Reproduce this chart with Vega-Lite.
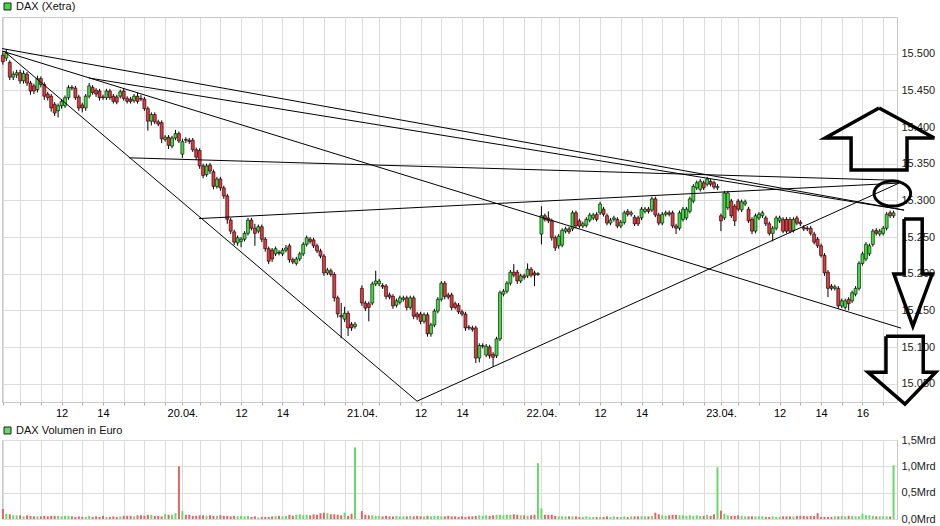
{
"$schema":"https://vega.github.io/schema/vega-lite/v6.json",
"padding":{"left":0,"top":0,"right":0,"bottom":0},
"spacing":5,
"config":{"view":{"stroke":"#c8c8c8"},"font":"Liberation Sans",
"axis":{"gridColor":"#dcdcdc","gridWidth":1,"labelFont":"Liberation Sans","labelFontSize":11,"labelColor":"#111","domain":false,"ticks":false,"title":null,"labelOverlap":false},
"legend":{"symbolType":"square","symbolSize":49,"symbolStrokeColor":"#222","symbolStrokeWidth":1,"labelFont":"Liberation Sans","labelFontSize":11,"labelColor":"#111","padding":0,"title":null,"labelOffset":3}},
"datasets":{
"candles":[
{"t":0,"o":15498,"h":15502,"l":15485,"c":15489,"v":0.19},
{"t":1,"o":15494,"h":15506,"l":15490,"c":15501,"v":0.10},
{"t":2,"o":15488,"h":15491,"l":15464,"c":15468,"v":0.09},
{"t":3,"o":15468,"h":15476,"l":15464,"c":15472,"v":0.07},
{"t":4,"o":15471,"h":15478,"l":15467,"c":15474,"v":0.07},
{"t":5,"o":15474,"h":15478,"l":15459,"c":15463,"v":0.07},
{"t":6,"o":15463,"h":15477,"l":15459,"c":15473,"v":0.05},
{"t":7,"o":15472,"h":15475,"l":15456,"c":15460,"v":0.07},
{"t":8,"o":15460,"h":15463,"l":15444,"c":15449,"v":0.06},
{"t":9,"o":15456,"h":15459,"l":15445,"c":15449,"v":0.05},
{"t":10,"o":15451,"h":15470,"l":15447,"c":15466,"v":0.05},
{"t":11,"o":15466,"h":15469,"l":15454,"c":15458,"v":0.05},
{"t":12,"o":15458,"h":15461,"l":15437,"c":15442,"v":0.06},
{"t":13,"o":15445,"h":15448,"l":15436,"c":15440,"v":0.05},
{"t":14,"o":15442,"h":15445,"l":15421,"c":15426,"v":0.06},
{"t":15,"o":15431,"h":15434,"l":15415,"c":15419,"v":0.06},
{"t":16,"o":15422,"h":15432,"l":15413,"c":15429,"v":0.06},
{"t":17,"o":15429,"h":15438,"l":15425,"c":15435,"v":0.05},
{"t":18,"o":15429,"h":15443,"l":15426,"c":15440,"v":0.06},
{"t":19,"o":15440,"h":15457,"l":15437,"c":15454,"v":0.06},
{"t":20,"o":15454,"h":15457,"l":15450,"c":15453,"v":0.05},
{"t":21,"o":15453,"h":15456,"l":15437,"c":15440,"v":0.04},
{"t":22,"o":15441,"h":15444,"l":15422,"c":15426,"v":0.05},
{"t":23,"o":15430,"h":15433,"l":15420,"c":15426,"v":0.04},
{"t":24,"o":15426,"h":15445,"l":15422,"c":15442,"v":0.04},
{"t":25,"o":15442,"h":15460,"l":15439,"c":15456,"v":0.06},
{"t":26,"o":15454,"h":15457,"l":15444,"c":15447,"v":0.04},
{"t":27,"o":15450,"h":15453,"l":15441,"c":15445,"v":0.05},
{"t":28,"o":15449,"h":15452,"l":15436,"c":15440,"v":0.04},
{"t":29,"o":15441,"h":15444,"l":15437,"c":15440,"v":0.06},
{"t":30,"o":15440,"h":15452,"l":15437,"c":15449,"v":0.04},
{"t":31,"o":15449,"h":15452,"l":15437,"c":15440,"v":0.04},
{"t":32,"o":15442,"h":15445,"l":15432,"c":15435,"v":0.05},
{"t":33,"o":15441,"h":15444,"l":15431,"c":15434,"v":0.04},
{"t":34,"o":15442,"h":15451,"l":15439,"c":15448,"v":0.05},
{"t":35,"o":15449,"h":15452,"l":15436,"c":15439,"v":0.06},
{"t":36,"o":15439,"h":15442,"l":15432,"c":15435,"v":0.06},
{"t":37,"o":15438,"h":15441,"l":15432,"c":15435,"v":0.06},
{"t":38,"o":15436,"h":15445,"l":15433,"c":15442,"v":0.05},
{"t":39,"o":15442,"h":15447,"l":15432,"c":15435,"v":0.07},
{"t":40,"o":15439,"h":15444,"l":15435,"c":15438,"v":0.07},
{"t":41,"o":15438,"h":15441,"l":15422,"c":15425,"v":0.06},
{"t":42,"o":15425,"h":15428,"l":15395,"c":15408,"v":0.08},
{"t":43,"o":15408,"h":15420,"l":15402,"c":15417,"v":0.08},
{"t":44,"o":15417,"h":15420,"l":15404,"c":15407,"v":0.06},
{"t":45,"o":15407,"h":15410,"l":15401,"c":15404,"v":0.06},
{"t":46,"o":15406,"h":15409,"l":15378,"c":15384,"v":0.05},
{"t":47,"o":15383,"h":15389,"l":15380,"c":15386,"v":0.09},
{"t":48,"o":15386,"h":15389,"l":15370,"c":15375,"v":0.08},
{"t":49,"o":15374,"h":15388,"l":15371,"c":15385,"v":0.08},
{"t":50,"o":15385,"h":15396,"l":15382,"c":15391,"v":0.11},
{"t":51,"o":15391,"h":15394,"l":15378,"c":15381,"v":1.0},
{"t":52,"o":15363,"h":15384,"l":15358,"c":15380,"v":0.15},
{"t":53,"o":15383,"h":15386,"l":15378,"c":15382,"v":0.08},
{"t":54,"o":15382,"h":15385,"l":15377,"c":15380,"v":0.08},
{"t":55,"o":15382,"h":15385,"l":15366,"c":15369,"v":0.06},
{"t":56,"o":15369,"h":15372,"l":15355,"c":15359,"v":0.06},
{"t":57,"o":15368,"h":15371,"l":15343,"c":15347,"v":0.07},
{"t":58,"o":15347,"h":15350,"l":15330,"c":15334,"v":0.07},
{"t":59,"o":15335,"h":15350,"l":15332,"c":15347,"v":0.06},
{"t":60,"o":15348,"h":15351,"l":15336,"c":15340,"v":0.07},
{"t":61,"o":15339,"h":15342,"l":15315,"c":15319,"v":0.06},
{"t":62,"o":15319,"h":15332,"l":15316,"c":15329,"v":0.06},
{"t":63,"o":15329,"h":15332,"l":15313,"c":15317,"v":0.07},
{"t":64,"o":15317,"h":15320,"l":15302,"c":15306,"v":0.06},
{"t":65,"o":15306,"h":15309,"l":15268,"c":15274,"v":0.06},
{"t":66,"o":15273,"h":15276,"l":15254,"c":15258,"v":0.05},
{"t":67,"o":15257,"h":15260,"l":15239,"c":15243,"v":0.06},
{"t":68,"o":15242,"h":15252,"l":15238,"c":15249,"v":0.05},
{"t":69,"o":15244,"h":15250,"l":15236,"c":15247,"v":0.06},
{"t":70,"o":15247,"h":15258,"l":15244,"c":15255,"v":0.05},
{"t":71,"o":15255,"h":15276,"l":15252,"c":15273,"v":0.06},
{"t":72,"o":15273,"h":15276,"l":15259,"c":15262,"v":0.04},
{"t":73,"o":15262,"h":15268,"l":15238,"c":15255,"v":0.05},
{"t":74,"o":15258,"h":15267,"l":15255,"c":15264,"v":0.03},
{"t":75,"o":15264,"h":15267,"l":15243,"c":15247,"v":0.04},
{"t":76,"o":15247,"h":15250,"l":15230,"c":15234,"v":0.04},
{"t":77,"o":15234,"h":15237,"l":15213,"c":15217,"v":0.04},
{"t":78,"o":15232,"h":15235,"l":15216,"c":15220,"v":0.05},
{"t":79,"o":15227,"h":15237,"l":15224,"c":15234,"v":0.06},
{"t":80,"o":15229,"h":15232,"l":15225,"c":15228,"v":0.06},
{"t":81,"o":15227,"h":15235,"l":15224,"c":15232,"v":0.05},
{"t":82,"o":15232,"h":15239,"l":15229,"c":15235,"v":0.06},
{"t":83,"o":15238,"h":15241,"l":15215,"c":15219,"v":0.08},
{"t":84,"o":15219,"h":15222,"l":15213,"c":15216,"v":0.06},
{"t":85,"o":15214,"h":15223,"l":15211,"c":15220,"v":0.08},
{"t":86,"o":15220,"h":15230,"l":15217,"c":15227,"v":0.09},
{"t":87,"o":15227,"h":15243,"l":15224,"c":15240,"v":0.07},
{"t":88,"o":15240,"h":15252,"l":15237,"c":15249,"v":0.08},
{"t":89,"o":15247,"h":15250,"l":15241,"c":15244,"v":0.07},
{"t":90,"o":15246,"h":15249,"l":15235,"c":15238,"v":0.09},
{"t":91,"o":15238,"h":15241,"l":15228,"c":15231,"v":0.08},
{"t":92,"o":15231,"h":15234,"l":15221,"c":15224,"v":0.11},
{"t":93,"o":15224,"h":15227,"l":15197,"c":15201,"v":0.12},
{"t":94,"o":15201,"h":15208,"l":15198,"c":15205,"v":0.11},
{"t":95,"o":15204,"h":15207,"l":15196,"c":15199,"v":0.09},
{"t":96,"o":15199,"h":15202,"l":15162,"c":15167,"v":0.09},
{"t":97,"o":15167,"h":15170,"l":15140,"c":15145,"v":0.08},
{"t":98,"o":15143,"h":15160,"l":15112,"c":15141,"v":0.07},
{"t":99,"o":15138,"h":15155,"l":15134,"c":15146,"v":0.12},
{"t":100,"o":15146,"h":15149,"l":15115,"c":15126,"v":0.06},
{"t":101,"o":15131,"h":15134,"l":15122,"c":15126,"v":0.10},
{"t":102,"o":15128,"h":15134,"l":15125,"c":15131,"v":1.36},
{"t":104,"o":15180,"h":15184,"l":15156,"c":15160,"v":0.15},
{"t":105,"o":15160,"h":15163,"l":15149,"c":15153,"v":0.08},
{"t":106,"o":15159,"h":15162,"l":15135,"c":15154,"v":0.07},
{"t":107,"o":15160,"h":15189,"l":15157,"c":15186,"v":0.07},
{"t":108,"o":15186,"h":15204,"l":15183,"c":15190,"v":0.06},
{"t":109,"o":15186,"h":15193,"l":15183,"c":15190,"v":0.06},
{"t":110,"o":15184,"h":15187,"l":15179,"c":15182,"v":0.05},
{"t":111,"o":15183,"h":15186,"l":15165,"c":15169,"v":0.06},
{"t":112,"o":15171,"h":15174,"l":15165,"c":15168,"v":0.05},
{"t":113,"o":15169,"h":15172,"l":15152,"c":15156,"v":0.05},
{"t":114,"o":15157,"h":15166,"l":15154,"c":15163,"v":0.06},
{"t":115,"o":15161,"h":15170,"l":15158,"c":15167,"v":0.05},
{"t":116,"o":15165,"h":15170,"l":15162,"c":15167,"v":0.05},
{"t":117,"o":15167,"h":15170,"l":15150,"c":15154,"v":0.05},
{"t":118,"o":15154,"h":15170,"l":15151,"c":15167,"v":0.06},
{"t":119,"o":15167,"h":15170,"l":15138,"c":15142,"v":0.05},
{"t":120,"o":15145,"h":15148,"l":15137,"c":15141,"v":0.06},
{"t":121,"o":15145,"h":15148,"l":15131,"c":15135,"v":0.05},
{"t":122,"o":15135,"h":15147,"l":15132,"c":15144,"v":0.05},
{"t":123,"o":15144,"h":15147,"l":15114,"c":15118,"v":0.06},
{"t":124,"o":15118,"h":15133,"l":15114,"c":15130,"v":0.05},
{"t":125,"o":15130,"h":15152,"l":15127,"c":15149,"v":0.06},
{"t":126,"o":15149,"h":15168,"l":15146,"c":15165,"v":0.06},
{"t":127,"o":15165,"h":15190,"l":15162,"c":15187,"v":0.05},
{"t":128,"o":15187,"h":15190,"l":15165,"c":15169,"v":0.05},
{"t":129,"o":15171,"h":15174,"l":15165,"c":15168,"v":0.06},
{"t":130,"o":15171,"h":15174,"l":15150,"c":15154,"v":0.05},
{"t":131,"o":15159,"h":15162,"l":15151,"c":15154,"v":0.05},
{"t":132,"o":15157,"h":15160,"l":15145,"c":15148,"v":0.04},
{"t":133,"o":15148,"h":15151,"l":15142,"c":15145,"v":0.05},
{"t":134,"o":15145,"h":15148,"l":15122,"c":15126,"v":0.04},
{"t":135,"o":15127,"h":15130,"l":15123,"c":15126,"v":0.05},
{"t":136,"o":15126,"h":15129,"l":15121,"c":15124,"v":0.05},
{"t":137,"o":15126,"h":15129,"l":15078,"c":15085,"v":0.06},
{"t":138,"o":15085,"h":15105,"l":15079,"c":15102,"v":0.07},
{"t":139,"o":15101,"h":15105,"l":15098,"c":15102,"v":0.06},
{"t":140,"o":15089,"h":15104,"l":15086,"c":15101,"v":0.07},
{"t":141,"o":15100,"h":15103,"l":15084,"c":15088,"v":0.06},
{"t":142,"o":15090,"h":15093,"l":15073,"c":15086,"v":0.07},
{"t":143,"o":15088,"h":15114,"l":15085,"c":15111,"v":0.08},
{"t":144,"o":15111,"h":15177,"l":15108,"c":15174,"v":0.08},
{"t":145,"o":15172,"h":15179,"l":15169,"c":15176,"v":0.07},
{"t":146,"o":15176,"h":15190,"l":15173,"c":15187,"v":0.08},
{"t":147,"o":15187,"h":15205,"l":15184,"c":15202,"v":0.08},
{"t":148,"o":15202,"h":15213,"l":15195,"c":15198,"v":0.09},
{"t":149,"o":15202,"h":15205,"l":15186,"c":15190,"v":0.08},
{"t":150,"o":15190,"h":15200,"l":15187,"c":15197,"v":0.07},
{"t":151,"o":15197,"h":15200,"l":15192,"c":15195,"v":0.07},
{"t":152,"o":15197,"h":15214,"l":15194,"c":15206,"v":0.06},
{"t":153,"o":15206,"h":15209,"l":15195,"c":15198,"v":0.07},
{"t":154,"o":15201,"h":15204,"l":15183,"c":15198,"v":0.08},
{"t":155,"o":15199,"h":15202,"l":15197,"c":15200,"v":1.06},
{"t":156,"o":15254,"h":15292,"l":15240,"c":15279,"v":0.20},
{"t":157,"o":15279,"h":15282,"l":15271,"c":15274,"v":0.08},
{"t":158,"o":15276,"h":15285,"l":15269,"c":15272,"v":0.08},
{"t":159,"o":15272,"h":15275,"l":15245,"c":15249,"v":0.08},
{"t":160,"o":15249,"h":15252,"l":15231,"c":15235,"v":0.06},
{"t":161,"o":15238,"h":15254,"l":15234,"c":15251,"v":0.05},
{"t":162,"o":15239,"h":15262,"l":15236,"c":15259,"v":0.05},
{"t":163,"o":15258,"h":15264,"l":15255,"c":15261,"v":0.05},
{"t":164,"o":15261,"h":15264,"l":15254,"c":15257,"v":0.05},
{"t":165,"o":15261,"h":15286,"l":15258,"c":15283,"v":0.05},
{"t":166,"o":15283,"h":15286,"l":15262,"c":15265,"v":0.05},
{"t":167,"o":15272,"h":15275,"l":15262,"c":15265,"v":0.04},
{"t":168,"o":15265,"h":15271,"l":15262,"c":15268,"v":0.04},
{"t":169,"o":15266,"h":15277,"l":15263,"c":15274,"v":0.05},
{"t":170,"o":15273,"h":15283,"l":15270,"c":15280,"v":0.04},
{"t":171,"o":15276,"h":15283,"l":15273,"c":15280,"v":0.04},
{"t":172,"o":15281,"h":15284,"l":15271,"c":15274,"v":0.04},
{"t":173,"o":15283,"h":15298,"l":15280,"c":15295,"v":0.04},
{"t":174,"o":15288,"h":15291,"l":15278,"c":15281,"v":0.04},
{"t":175,"o":15279,"h":15282,"l":15266,"c":15269,"v":0.05},
{"t":176,"o":15269,"h":15276,"l":15266,"c":15273,"v":0.04},
{"t":177,"o":15274,"h":15279,"l":15271,"c":15276,"v":0.05},
{"t":178,"o":15274,"h":15277,"l":15262,"c":15265,"v":0.04},
{"t":179,"o":15265,"h":15273,"l":15262,"c":15270,"v":0.04},
{"t":180,"o":15270,"h":15286,"l":15267,"c":15283,"v":0.05},
{"t":181,"o":15285,"h":15288,"l":15278,"c":15281,"v":0.04},
{"t":182,"o":15281,"h":15286,"l":15278,"c":15283,"v":0.05},
{"t":183,"o":15277,"h":15280,"l":15265,"c":15268,"v":0.05},
{"t":184,"o":15276,"h":15279,"l":15265,"c":15268,"v":0.05},
{"t":185,"o":15276,"h":15291,"l":15273,"c":15288,"v":0.05},
{"t":186,"o":15285,"h":15291,"l":15282,"c":15288,"v":0.05},
{"t":187,"o":15288,"h":15291,"l":15282,"c":15285,"v":0.05},
{"t":188,"o":15287,"h":15305,"l":15284,"c":15302,"v":0.06},
{"t":189,"o":15302,"h":15305,"l":15277,"c":15280,"v":0.12},
{"t":190,"o":15280,"h":15283,"l":15266,"c":15269,"v":0.09},
{"t":191,"o":15269,"h":15284,"l":15266,"c":15281,"v":0.07},
{"t":192,"o":15281,"h":15286,"l":15278,"c":15283,"v":0.06},
{"t":193,"o":15283,"h":15286,"l":15278,"c":15281,"v":0.07},
{"t":194,"o":15283,"h":15286,"l":15262,"c":15265,"v":0.08},
{"t":195,"o":15265,"h":15268,"l":15254,"c":15262,"v":0.08},
{"t":196,"o":15262,"h":15286,"l":15259,"c":15283,"v":0.07},
{"t":197,"o":15274,"h":15291,"l":15271,"c":15288,"v":0.07},
{"t":198,"o":15276,"h":15291,"l":15273,"c":15288,"v":0.06},
{"t":199,"o":15285,"h":15305,"l":15282,"c":15302,"v":0.07},
{"t":200,"o":15299,"h":15322,"l":15296,"c":15319,"v":0.06},
{"t":201,"o":15317,"h":15327,"l":15314,"c":15324,"v":0.07},
{"t":202,"o":15315,"h":15329,"l":15312,"c":15326,"v":0.06},
{"t":203,"o":15324,"h":15327,"l":15314,"c":15317,"v":0.06},
{"t":204,"o":15322,"h":15332,"l":15319,"c":15329,"v":0.08},
{"t":205,"o":15326,"h":15329,"l":15319,"c":15322,"v":0.06},
{"t":206,"o":15324,"h":15327,"l":15315,"c":15318,"v":0.09},
{"t":207,"o":15317,"h":15322,"l":15314,"c":15319,"v":0.98},
{"t":208,"o":15279,"h":15282,"l":15258,"c":15272,"v":0.16},
{"t":209,"o":15276,"h":15313,"l":15273,"c":15310,"v":0.10},
{"t":210,"o":15290,"h":15313,"l":15287,"c":15310,"v":0.07},
{"t":211,"o":15299,"h":15302,"l":15276,"c":15279,"v":0.06},
{"t":212,"o":15292,"h":15295,"l":15265,"c":15272,"v":0.06},
{"t":213,"o":15299,"h":15302,"l":15285,"c":15288,"v":0.07},
{"t":214,"o":15287,"h":15301,"l":15284,"c":15298,"v":0.06},
{"t":215,"o":15295,"h":15301,"l":15292,"c":15298,"v":0.05},
{"t":216,"o":15288,"h":15291,"l":15269,"c":15272,"v":0.05},
{"t":217,"o":15274,"h":15277,"l":15254,"c":15258,"v":0.05},
{"t":218,"o":15258,"h":15282,"l":15255,"c":15279,"v":0.05},
{"t":219,"o":15276,"h":15284,"l":15273,"c":15281,"v":0.05},
{"t":220,"o":15279,"h":15286,"l":15276,"c":15283,"v":0.05},
{"t":221,"o":15276,"h":15279,"l":15265,"c":15268,"v":0.04},
{"t":222,"o":15268,"h":15271,"l":15252,"c":15255,"v":0.04},
{"t":223,"o":15255,"h":15265,"l":15244,"c":15262,"v":0.05},
{"t":224,"o":15262,"h":15279,"l":15259,"c":15276,"v":0.04},
{"t":225,"o":15272,"h":15279,"l":15269,"c":15276,"v":0.04},
{"t":226,"o":15274,"h":15277,"l":15255,"c":15258,"v":0.05},
{"t":227,"o":15274,"h":15277,"l":15255,"c":15258,"v":0.05},
{"t":228,"o":15274,"h":15277,"l":15255,"c":15258,"v":0.05},
{"t":229,"o":15259,"h":15277,"l":15256,"c":15274,"v":0.05},
{"t":230,"o":15276,"h":15279,"l":15266,"c":15269,"v":0.06},
{"t":231,"o":15270,"h":15273,"l":15265,"c":15268,"v":0.06},
{"t":232,"o":15263,"h":15266,"l":15258,"c":15261,"v":0.06},
{"t":233,"o":15262,"h":15265,"l":15258,"c":15261,"v":0.05},
{"t":234,"o":15262,"h":15265,"l":15252,"c":15255,"v":0.06},
{"t":235,"o":15254,"h":15257,"l":15240,"c":15243,"v":0.06},
{"t":236,"o":15247,"h":15250,"l":15235,"c":15238,"v":0.11},
{"t":237,"o":15238,"h":15241,"l":15222,"c":15225,"v":0.04},
{"t":238,"o":15225,"h":15228,"l":15197,"c":15201,"v":0.04},
{"t":239,"o":15202,"h":15205,"l":15168,"c":15180,"v":0.04},
{"t":240,"o":15183,"h":15186,"l":15177,"c":15180,"v":0.04},
{"t":241,"o":15180,"h":15185,"l":15177,"c":15182,"v":0.05},
{"t":242,"o":15180,"h":15183,"l":15152,"c":15156,"v":0.05},
{"t":243,"o":15156,"h":15166,"l":15153,"c":15163,"v":0.06},
{"t":244,"o":15154,"h":15166,"l":15151,"c":15163,"v":0.05},
{"t":245,"o":15165,"h":15168,"l":15150,"c":15159,"v":0.06},
{"t":246,"o":15163,"h":15177,"l":15160,"c":15174,"v":0.06},
{"t":247,"o":15172,"h":15183,"l":15169,"c":15180,"v":0.05},
{"t":248,"o":15180,"h":15217,"l":15177,"c":15214,"v":0.05},
{"t":249,"o":15214,"h":15230,"l":15211,"c":15227,"v":0.10},
{"t":250,"o":15220,"h":15243,"l":15217,"c":15240,"v":0.07},
{"t":251,"o":15227,"h":15241,"l":15224,"c":15238,"v":0.07},
{"t":252,"o":15240,"h":15261,"l":15237,"c":15258,"v":0.06},
{"t":253,"o":15259,"h":15262,"l":15252,"c":15255,"v":0.05},
{"t":254,"o":15254,"h":15261,"l":15251,"c":15258,"v":0.05},
{"t":255,"o":15255,"h":15265,"l":15252,"c":15262,"v":0.05},
{"t":256,"o":15262,"h":15284,"l":15259,"c":15281,"v":0.05},
{"t":257,"o":15283,"h":15286,"l":15276,"c":15279,"v":0.05},
{"t":258,"o":15279,"h":15286,"l":15276,"c":15283,"v":1.02}
],
"lines":[
{"t":-0.25,"p":15507,"t2":261.05,"p2":15286.7},
{"t":24.95,"p":15466.8,"t2":261.05,"p2":15286.7},
{"t":36.54,"p":15358,"t2":259.6,"p2":15327.2},
{"t":56.8,"p":15275.1,"t2":259.6,"p2":15323.5},
{"t":-0.25,"p":15503.6,"t2":260.2,"p2":15125.7},
{"t":119.97,"p":15026.1,"t2":259.6,"p2":15323.5},
{"t":0.33,"p":15503.6,"t2":119.97,"p2":15026.1}
],
"arrows":[
{"a":"up","i":0,"t":253.8,"p":15425.9},{"a":"up","i":1,"t":269.8,"p":15384.9},{"a":"up","i":2,"t":261.9,"p":15384.9},{"a":"up","i":3,"t":261.9,"p":15341.2},{"a":"up","i":4,"t":245.7,"p":15341.2},{"a":"up","i":5,"t":245.7,"p":15384.9},{"a":"up","i":6,"t":238.2,"p":15384.9},{"a":"up","i":7,"t":253.8,"p":15425.9},
{"a":"down1","i":0,"t":261.05,"p":15274.4},{"a":"down1","i":1,"t":266.3,"p":15274.4},{"a":"down1","i":2,"t":266.3,"p":15199.4},{"a":"down1","i":3,"t":269.2,"p":15199.4},{"a":"down1","i":4,"t":263.6,"p":15128.5},{"a":"down1","i":5,"t":258.1,"p":15199.4},{"a":"down1","i":6,"t":261.05,"p":15199.4},{"a":"down1","i":7,"t":261.05,"p":15274.4},
{"a":"down2","i":0,"t":255.8,"p":15114.8},{"a":"down2","i":1,"t":266.6,"p":15114.8},{"a":"down2","i":2,"t":266.6,"p":15065.7},{"a":"down2","i":3,"t":270.2,"p":15065.7},{"a":"down2","i":4,"t":261.3,"p":15022.1},{"a":"down2","i":5,"t":250.6,"p":15065.7},{"a":"down2","i":6,"t":255.8,"p":15065.7},{"a":"down2","i":7,"t":255.8,"p":15114.8}
],
"ring":[{"t":257.65,"p":15309.2}]
},
"vconcat":[
{"width":895,"height":385,
"encoding":{
"x":{"field":"t","type":"quantitative","scale":{"domain":[-0.25,259],"nice":false,"zero":false,"padding":0},
"axis":{"values":[0,5,11,17,23,29,35,41,47,52,57,63,69,75,81,87,93,99,104,109,115,121,127,133,139,145,151,156,161,167,173,179,185,191,197,203,208,213,219,225,231,237,243,249,255],
"labelExpr":"datum.value == 52 ? '20.04.' : datum.value == 104 ? '21.04.' : datum.value == 156 ? '22.04.' : datum.value == 208 ? '23.04.' : datum.value % 52 == 17 ? '12' : datum.value % 52 == 29 ? '14' : datum.value == 249 ? '16' : ''",
"labelOverlap":false,"labelFlush":false,"labelBound":false,"ticks":true,"tickSize":3,"tickColor":"#aaaaaa","labelPadding":2,"labelColor":"#000","grid":true,"title":null}}},
"layer":[
{"data":{"name":"candles"},"mark":{"type":"rule","color":"#000","strokeWidth":1},
"encoding":{
"y":{"field":"l","type":"quantitative","scale":{"domain":[15025,15550],"nice":false,"zero":false},
"axis":{"orient":"right","values":[15050,15100,15150,15200,15250,15300,15350,15400,15450,15500],"labelExpr":"replace(format(datum.value, ',d'), ',', '.')","labelPadding":4,"grid":true,"title":null,"labelColor":"#222","labelOverlap":false}},
"y2":{"field":"h"}}},
{"data":{"name":"candles"},"mark":{"type":"bar","width":3,"stroke":"#000","strokeWidth":0.6},
"encoding":{
"y":{"field":"o","type":"quantitative","scale":{"domain":[15025,15550],"nice":false,"zero":false},
"axis":{"orient":"right","values":[15050,15100,15150,15200,15250,15300,15350,15400,15450,15500],"labelExpr":"replace(format(datum.value, ',d'), ',', '.')","labelPadding":4,"grid":true,"title":null,"labelColor":"#222","labelOverlap":false}},
"y2":{"field":"c"},
"color":{"condition":{"test":"datum.c < datum.o","value":"#e0393e"},"datum":"DAX (Xetra)","type":"nominal","scale":{"range":["#3ddc3d"]},"legend":{"orient":"none","legendX":0,"legendY":-16}}}},
{"data":{"name":"lines"},"mark":{"type":"rule","color":"#000","strokeWidth":1},
"encoding":{
"y":{"field":"p","type":"quantitative","scale":{"domain":[15025,15550],"nice":false,"zero":false},
"axis":{"orient":"right","values":[15050,15100,15150,15200,15250,15300,15350,15400,15450,15500],"labelExpr":"replace(format(datum.value, ',d'), ',', '.')","labelPadding":4,"grid":true,"title":null,"labelColor":"#222","labelOverlap":false}},
"x2":{"field":"t2"},"y2":{"field":"p2"}}},
{"data":{"name":"arrows"},"mark":{"type":"line","color":"#000","strokeWidth":3.5,"strokeJoin":"miter","clip":false},
"encoding":{
"y":{"field":"p","type":"quantitative","scale":{"domain":[15025,15550],"nice":false,"zero":false},
"axis":{"orient":"right","values":[15050,15100,15150,15200,15250,15300,15350,15400,15450,15500],"labelExpr":"replace(format(datum.value, ',d'), ',', '.')","labelPadding":4,"grid":true,"title":null,"labelColor":"#222","labelOverlap":false}},
"detail":{"field":"a"},"order":{"field":"i"}}},
{"data":{"name":"ring"},"mark":{"type":"point","shape":"M -1 0 A 1 0.683 0 1 0 1 0 A 1 0.683 0 1 0 -1 0 Z","size":1340,"filled":false,"stroke":"#000","strokeWidth":3,"opacity":1},
"encoding":{
"y":{"field":"p","type":"quantitative","scale":{"domain":[15025,15550],"nice":false,"zero":false},
"axis":{"orient":"right","values":[15050,15100,15150,15200,15250,15300,15350,15400,15450,15500],"labelExpr":"replace(format(datum.value, ',d'), ',', '.')","labelPadding":4,"grid":true,"title":null,"labelColor":"#222","labelOverlap":false}}}}
]},
{"width":895,"height":79,
"data":{"name":"candles"},
"mark":{"type":"bar","width":2},
"encoding":{
"x":{"field":"t","type":"quantitative","scale":{"domain":[-0.25,259],"nice":false,"zero":false,"padding":0},
"axis":{"values":[0,5,11,17,23,29,35,41,47,52,57,63,69,75,81,87,93,99,104,109,115,121,127,133,139,145,151,156,161,167,173,179,185,191,197,203,208,213,219,225,231,237,243,249,255],"labels":false,"ticks":false,"grid":true,"title":null}},
"y":{"field":"v","type":"quantitative","scale":{"domain":[0,1.5],"nice":false},
"axis":{"orient":"right","values":[0,0.5,1,1.5],"labelExpr":"replace(format(datum.value, '.1f'), '.', ',') + 'Mrd'","labelPadding":4,"grid":true,"title":null,"labelColor":"#222"}},
"color":{"condition":{"test":"datum.c < datum.o","value":"#e06666"},"datum":"DAX Volumen in Euro","type":"nominal","scale":{"range":["#66d966"]},"legend":{"orient":"none","legendX":0,"legendY":-15}}}}
],
"resolve":{"scale":{"color":"independent","x":"independent","y":"independent"},"legend":{"color":"independent"}}
}
